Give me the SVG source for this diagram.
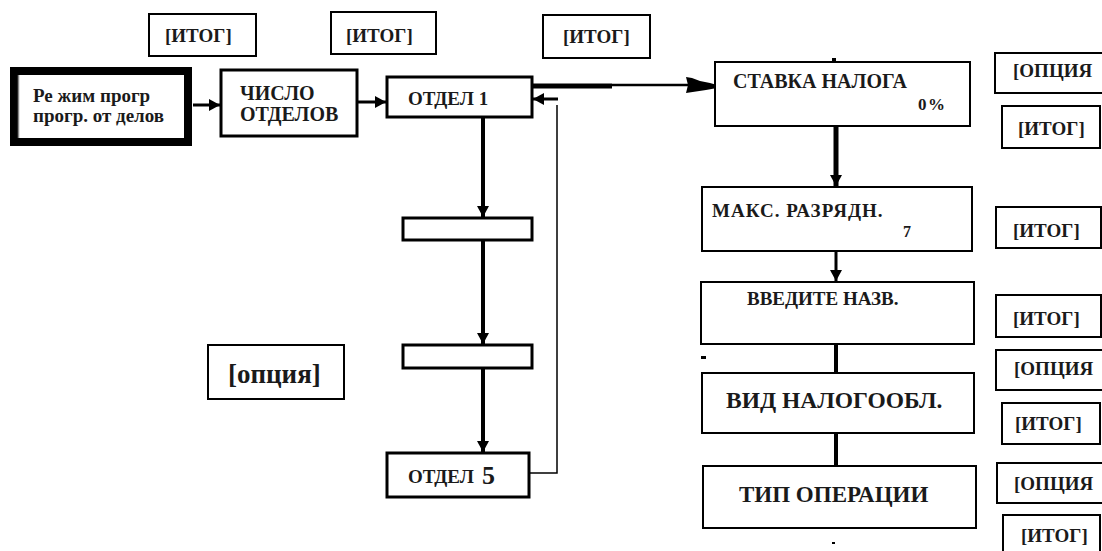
<svg xmlns="http://www.w3.org/2000/svg" width="1102" height="551" viewBox="0 0 1102 551">
<defs>
<style>
.bx{fill:#fff;stroke:#000;stroke-width:2}
.bx3{fill:#fff;stroke:#000;stroke-width:3}
.t{font-family:'Liberation Serif','Times New Roman',serif;font-weight:bold;fill:#1a1a1a}
.c{stroke:#000;fill:none}
</style>
<marker id="ah" markerUnits="userSpaceOnUse" markerWidth="12" markerHeight="12" refX="11" refY="6" orient="auto">
<path d="M0,0 L11,6 L0,12 Z" fill="#000"/>
</marker>
</defs>
<rect width="1102" height="551" fill="#fff"/>

<g id="connectors">
<line class="c" x1="193" y1="105" x2="220" y2="105" stroke-width="3" marker-end="url(#ah)"/>
<line class="c" x1="357" y1="102" x2="386" y2="102" stroke-width="3" marker-end="url(#ah)"/>
<line class="c" x1="532" y1="86" x2="612" y2="86" stroke-width="5"/>
<line class="c" x1="612" y1="85" x2="690" y2="85" stroke-width="2.5"/>
<polygon points="686,77 692,78 700,81 710,83 717,85 717,88 706,90 686,93 688,85" fill="#000"/>
<polyline class="c" points="530,473 557,473 557,105" stroke-width="1.5"/>
<line class="c" x1="558" y1="99" x2="533" y2="99" stroke-width="3" marker-end="url(#ah)"/>
<line class="c" x1="483" y1="117" x2="483" y2="217" stroke-width="4" marker-end="url(#ah)"/>
<line class="c" x1="483" y1="240" x2="483" y2="344" stroke-width="4" marker-end="url(#ah)"/>
<line class="c" x1="483" y1="368" x2="483" y2="452" stroke-width="4" marker-end="url(#ah)"/>
<rect x="832" y="58" width="4" height="4" fill="#000"/>
<line class="c" x1="836" y1="126" x2="836" y2="186" stroke-width="5" marker-end="url(#ah)"/>
<line class="c" x1="836" y1="251" x2="836" y2="281" stroke-width="3" marker-end="url(#ah)"/>
<line class="c" x1="836" y1="343" x2="836" y2="375" stroke-width="4"/>
<line class="c" x1="836" y1="432" x2="836" y2="467" stroke-width="4"/>
</g>

<g id="mode">
<rect x="14" y="71" width="174" height="71" fill="#fff" stroke="#000" stroke-width="8"/>
<line x1="18.5" y1="75" x2="18.5" y2="138" stroke="#888" stroke-width="1.5"/>
<text class="t" x="33" y="102" font-size="19">Ре жим прогр</text>
<text class="t" x="33" y="122" font-size="19">прогр. от делов</text>
</g>

<g id="count">
<rect class="bx3" x="221" y="70" width="136" height="66"/>
<text class="t" x="240" y="100" font-size="20">ЧИСЛО</text>
<text class="t" x="240" y="121" font-size="20">ОТДЕЛОВ</text>
</g>

<g id="itog1">
<rect class="bx" x="149" y="14" width="107" height="42"/>
<text class="t" x="165" y="42" font-size="19">[ИТОГ]</text>
</g>
<g id="itog2">
<rect class="bx" x="331" y="12" width="105" height="42"/>
<text class="t" x="346" y="42" font-size="19">[ИТОГ]</text>
</g>
<g id="itog3">
<rect class="bx" x="543" y="15" width="107" height="43"/>
<text class="t" x="563" y="43" font-size="19">[ИТОГ]</text>
</g>

<g id="dept1">
<rect class="bx3" x="387" y="77" width="145" height="40"/>
<text class="t" x="408" y="105" font-size="19">ОТДЕЛ 1</text>
</g>
<g id="deptA">
<rect class="bx3" x="403" y="218" width="129" height="22"/>
</g>
<g id="deptB">
<rect class="bx3" x="403" y="345" width="129" height="23"/>
</g>
<g id="dept5">
<rect class="bx3" x="387" y="453" width="142" height="44"/>
<text class="t" x="408" y="483" font-size="19">ОТДЕЛ</text>
<text class="t" x="482" y="484" font-size="26">5</text>
</g>

<g id="option-left">
<rect class="bx" x="208" y="345" width="136" height="54"/>
<text class="t" x="228" y="383" font-size="27">[опция]</text>
</g>

<g id="rate">
<rect class="bx" x="715" y="62" width="255" height="64"/>
<text class="t" x="733" y="88" font-size="20">СТАВКА НАЛОГА</text>
<text class="t" x="918" y="110" font-size="17" letter-spacing="1.5">0%</text>
</g>
<g id="maxdig">
<rect class="bx" x="702" y="187" width="270" height="64"/>
<text class="t" x="712" y="217" font-size="19" letter-spacing="1">МАКС. РАЗРЯДН.</text>
<text class="t" x="903" y="237" font-size="16">7</text>
</g>
<g id="name">
<rect class="bx" x="701" y="282" width="273" height="62"/>
<text class="t" x="747" y="305" font-size="19">ВВЕДИТЕ НАЗВ.</text>
<rect x="701" y="356" width="5" height="3" fill="#000"/>
</g>
<g id="taxtype">
<rect class="bx" x="702" y="373" width="272" height="60"/>
<text class="t" x="726" y="408" font-size="23.5">ВИД НАЛОГООБЛ.</text>
</g>
<g id="optype">
<rect class="bx" x="703" y="466" width="273" height="62"/>
<text class="t" x="739" y="502" font-size="23">ТИП ОПЕРАЦИИ</text>
<rect x="832" y="542" width="3" height="2" fill="#000"/>
</g>

<g id="opt-r1">
<rect class="bx" x="995" y="53" width="112" height="40"/>
<text class="t" x="1013" y="77" font-size="19">[ОПЦИЯ</text>
</g>
<g id="itog-r1">
<rect class="bx" x="1002" y="106" width="98" height="42"/>
<text class="t" x="1018" y="135" font-size="19">[ИТОГ]</text>
</g>
<g id="itog-r2">
<rect class="bx" x="996" y="207" width="105" height="41"/>
<text class="t" x="1013" y="237" font-size="19">[ИТОГ]</text>
</g>
<g id="itog-r3">
<rect class="bx" x="996" y="295" width="105" height="42"/>
<text class="t" x="1013" y="325" font-size="19">[ИТОГ]</text>
</g>
<g id="opt-r2">
<rect class="bx" x="996" y="350" width="112" height="40"/>
<text class="t" x="1014" y="375" font-size="19">[ОПЦИЯ</text>
</g>
<g id="itog-r4">
<rect class="bx" x="1002" y="403" width="98" height="41"/>
<text class="t" x="1015" y="430" font-size="19">[ИТОГ]</text>
</g>
<g id="opt-r3">
<rect class="bx" x="997" y="463" width="112" height="40"/>
<text class="t" x="1014" y="490" font-size="19">[ОПЦИЯ</text>
</g>
<g id="itog-r5">
<rect class="bx" x="1003" y="515" width="97" height="45"/>
<text class="t" x="1021" y="542" font-size="19">[ИТОГ]</text>
</g>
</svg>
